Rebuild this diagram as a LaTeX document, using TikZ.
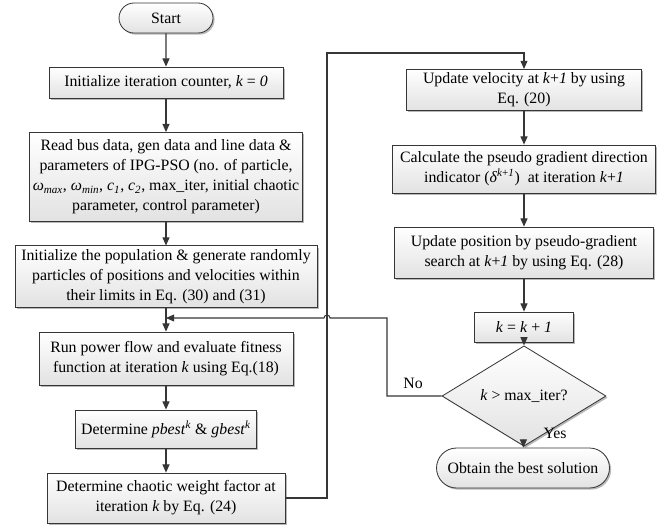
\documentclass[tikz,border=0pt]{standalone}
\usepackage{fontspec}
\setmainfont{Liberation Serif}
\usetikzlibrary{arrows.meta,positioning,shapes.geometric,shapes.misc,shadows,calc}
\definecolor{fcline}{HTML}{363636}
\definecolor{fcshade}{HTML}{E2E2E2}
\definecolor{fcshadow}{HTML}{9A9A9A}

\begin{document}
\begin{tikzpicture}[
    fcbox/.style={rectangle, draw=fcline, line width=0.7pt, top color=white,
                  bottom color=fcshade, align=center, inner sep=3pt,
                  drop shadow={shadow xshift=1.4pt, shadow yshift=-1.4pt,
                               fill=fcshadow, opacity=0.7}},
    fcterm/.style={fcbox, rounded rectangle},
    fcdec/.style={fcbox, diamond, inner sep=0pt},
    arr/.style={draw=fcline, line width=0.9pt, -{Triangle[length=7pt,width=6pt]}},
    every node/.style={font=\fontsize{13.5}{17}\selectfont}
  ]

  % ---- Frame ----
  \useasboundingbox (0,0) rectangle (20.1,-15.81);

  % ============ LEFT column ============

  \node[fcterm, minimum width=3.03cm, minimum height=0.9cm]
    (start) at (4.98,-0.54) {Start};

  \node[fcbox, minimum width=7.02cm, minimum height=0.93cm]
    (init) at (4.98,-2.475)
    {Initialize iteration counter, \textit{k} = \textit{0}};

  \node[fcbox, minimum width=7.92cm, minimum height=2.67cm]
    (read) at (4.98,-5.31)
    {Read bus data, gen data and line data \&\\
     parameters of IPG-PSO (no. of particle,\\
     \textit{ω}\textsubscript{\textit{max}}, \textit{ω}\textsubscript{\textit{min}},
     \textit{c}\textsubscript{\textit{1}}, \textit{c}\textsubscript{\textit{2}},
     max\_iter, initial chaotic\\
     parameter, control parameter)};

  \node[fcbox, minimum width=9.06cm, minimum height=1.71cm]
    (pop) at (4.98,-8.295)
    {Initialize the population \& generate randomly\\
     particles of positions and velocities within\\
     their limits in Eq. (30) and (31)};

  \node[fcbox, minimum width=7.62cm, minimum height=1.59cm]
    (run) at (4.98,-10.755)
    {Run power flow and evaluate fitness\\
     function at iteration \textit{k} using Eq.(18)};

  \node[fcbox, minimum width=5.43cm, minimum height=1.14cm]
    (best) at (4.98,-12.87)
    {Determine \textit{pbest}\textsuperscript{\textit{k}} \&
     \textit{gbest}\textsuperscript{\textit{k}}};

  \node[fcbox, minimum width=7.14cm, minimum height=1.5cm]
    (chaos) at (4.98,-14.94)
    {Determine chaotic weight factor at\\
     iteration \textit{k} by Eq. (24)};

  % ============ RIGHT column ============

  \node[fcbox, minimum width=7.05cm, minimum height=1.2cm]
    (vel) at (15.72,-2.7)
    {Update velocity at \textit{k}+\textit{1} by using\\ Eq. (20)};

  \node[fcbox, minimum width=7.89cm, minimum height=1.44cm]
    (grad) at (15.72,-5.07)
    {Calculate the pseudo gradient direction\\
     indicator (\textit{δ}\textsuperscript{\textit{k}+\textit{1}})~ at iteration \textit{k}+\textit{1}};

  \node[fcbox, minimum width=7.77cm, minimum height=1.53cm]
    (pos) at (15.72,-7.575)
    {Update position by pseudo-gradient\\
     search at \textit{k}+\textit{1} by using Eq. (28)};

  \node[fcbox, minimum width=2.97cm, minimum height=0.9cm]
    (inc) at (15.72,-9.81)
    {\textit{k} = \textit{k} + \textit{1}};

  \node[fcdec, minimum width=4.92cm, minimum height=1.26cm]
    (dec) at (15.72,-11.88)
    {\textit{k} > max\_iter?};

  \node[fcterm, minimum width=5.4cm, minimum height=1.2cm]
    (stop) at (15.69,-14.04)
    {Obtain the best solution};

  \node (nolab) at (12.39,-11.49) {No};
  \node (yeslab) at (16.65,-12.99) {Yes};

  % ---- Connectors ----
  \coordinate (loopTop) at (9.81,-1.59);
  \coordinate (noTurn) at (11.61,-9.54);
  \coordinate (hopR) at (9.9,-9.54);
  \coordinate (join) at (4.98,-9.54);

  \draw[arr] (start) -- (init);
  \draw[arr] (init) -- (read);
  \draw[arr] (read) -- (pop);
  \draw[arr] (pop) -- (run);
  \draw[arr] (run) -- (best);
  \draw[arr] (best) -- (chaos);

  \draw[arr] (chaos.east) -| (loopTop) -| (vel.north);

  \draw[arr] (vel) -- (grad);
  \draw[arr] (grad) -- (pos);
  \draw[arr] (pos) -- (inc);
  \draw[arr] (inc) -- (dec);
  \draw[arr] (dec) -- (stop);

  % No branch hops over the loop line
  \draw[arr] (dec.west) -| (noTurn) -- (hopR)
    arc[start angle=0, end angle=180, radius=0.09] -- (join);

\end{tikzpicture}
\end{document}
